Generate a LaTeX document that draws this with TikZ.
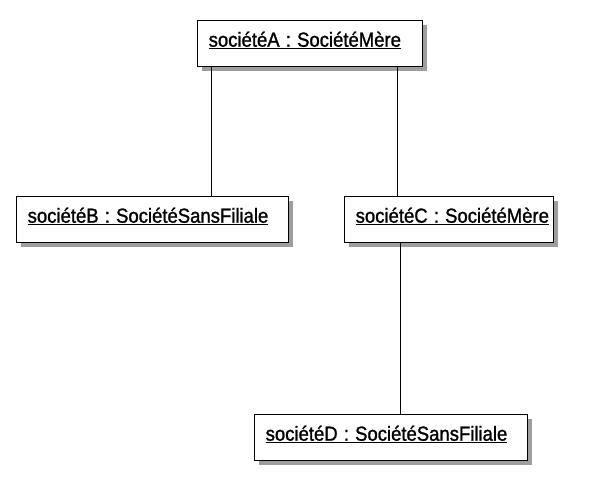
\documentclass[tikz,border=0pt]{standalone}
\usepackage{fontspec}
\setmainfont{Liberation Sans}[FakeBold=1.3]
\usetikzlibrary{shadows}
\tikzset{
  objbox/.style={draw, line width=1.4pt, fill=white, anchor=north west,
    inner xsep=11pt, inner ysep=0pt, text height=26pt, text depth=20pt,
    align=left, font=\fontsize{18.5}{20}\selectfont,
    drop shadow={shadow xshift=4pt, shadow yshift=-4pt, opacity=1, fill=black!38}},
  link/.style={line width=1pt}
}
\newcommand{\objname}[1]{\scalebox{1}[1.1]{\underline{#1}}}
\begin{document}
\begin{tikzpicture}[x=1pt,y=-1pt]
  \useasboundingbox (0,0) rectangle (590,482);
  % objects
  \node[objbox, text width=203pt] (socA) at (197,20) {\objname{sociétéA : SociétéMère}};
  \node[objbox, text width=250pt] (socB) at (16,196) {\objname{sociétéB : SociétéSansFiliale}};
  \node[objbox, text width=187pt] (socC) at (344,196) {\objname{sociétéC : SociétéMère}};
  \node[objbox, text width=251pt] (socD) at (254,414) {\objname{sociétéD : SociétéSansFiliale}};
  % links
  \draw[link] ([xshift=14pt]socA.south west) -- ([xshift=14pt]socA.south west |- socB.north);
  \draw[link] ([xshift=-26pt]socA.south east) -- ([xshift=-26pt]socA.south east |- socC.north);
  \draw[link] ([xshift=56pt]socC.south west) -- ([xshift=56pt]socC.south west |- socD.north);
\end{tikzpicture}
\end{document}
